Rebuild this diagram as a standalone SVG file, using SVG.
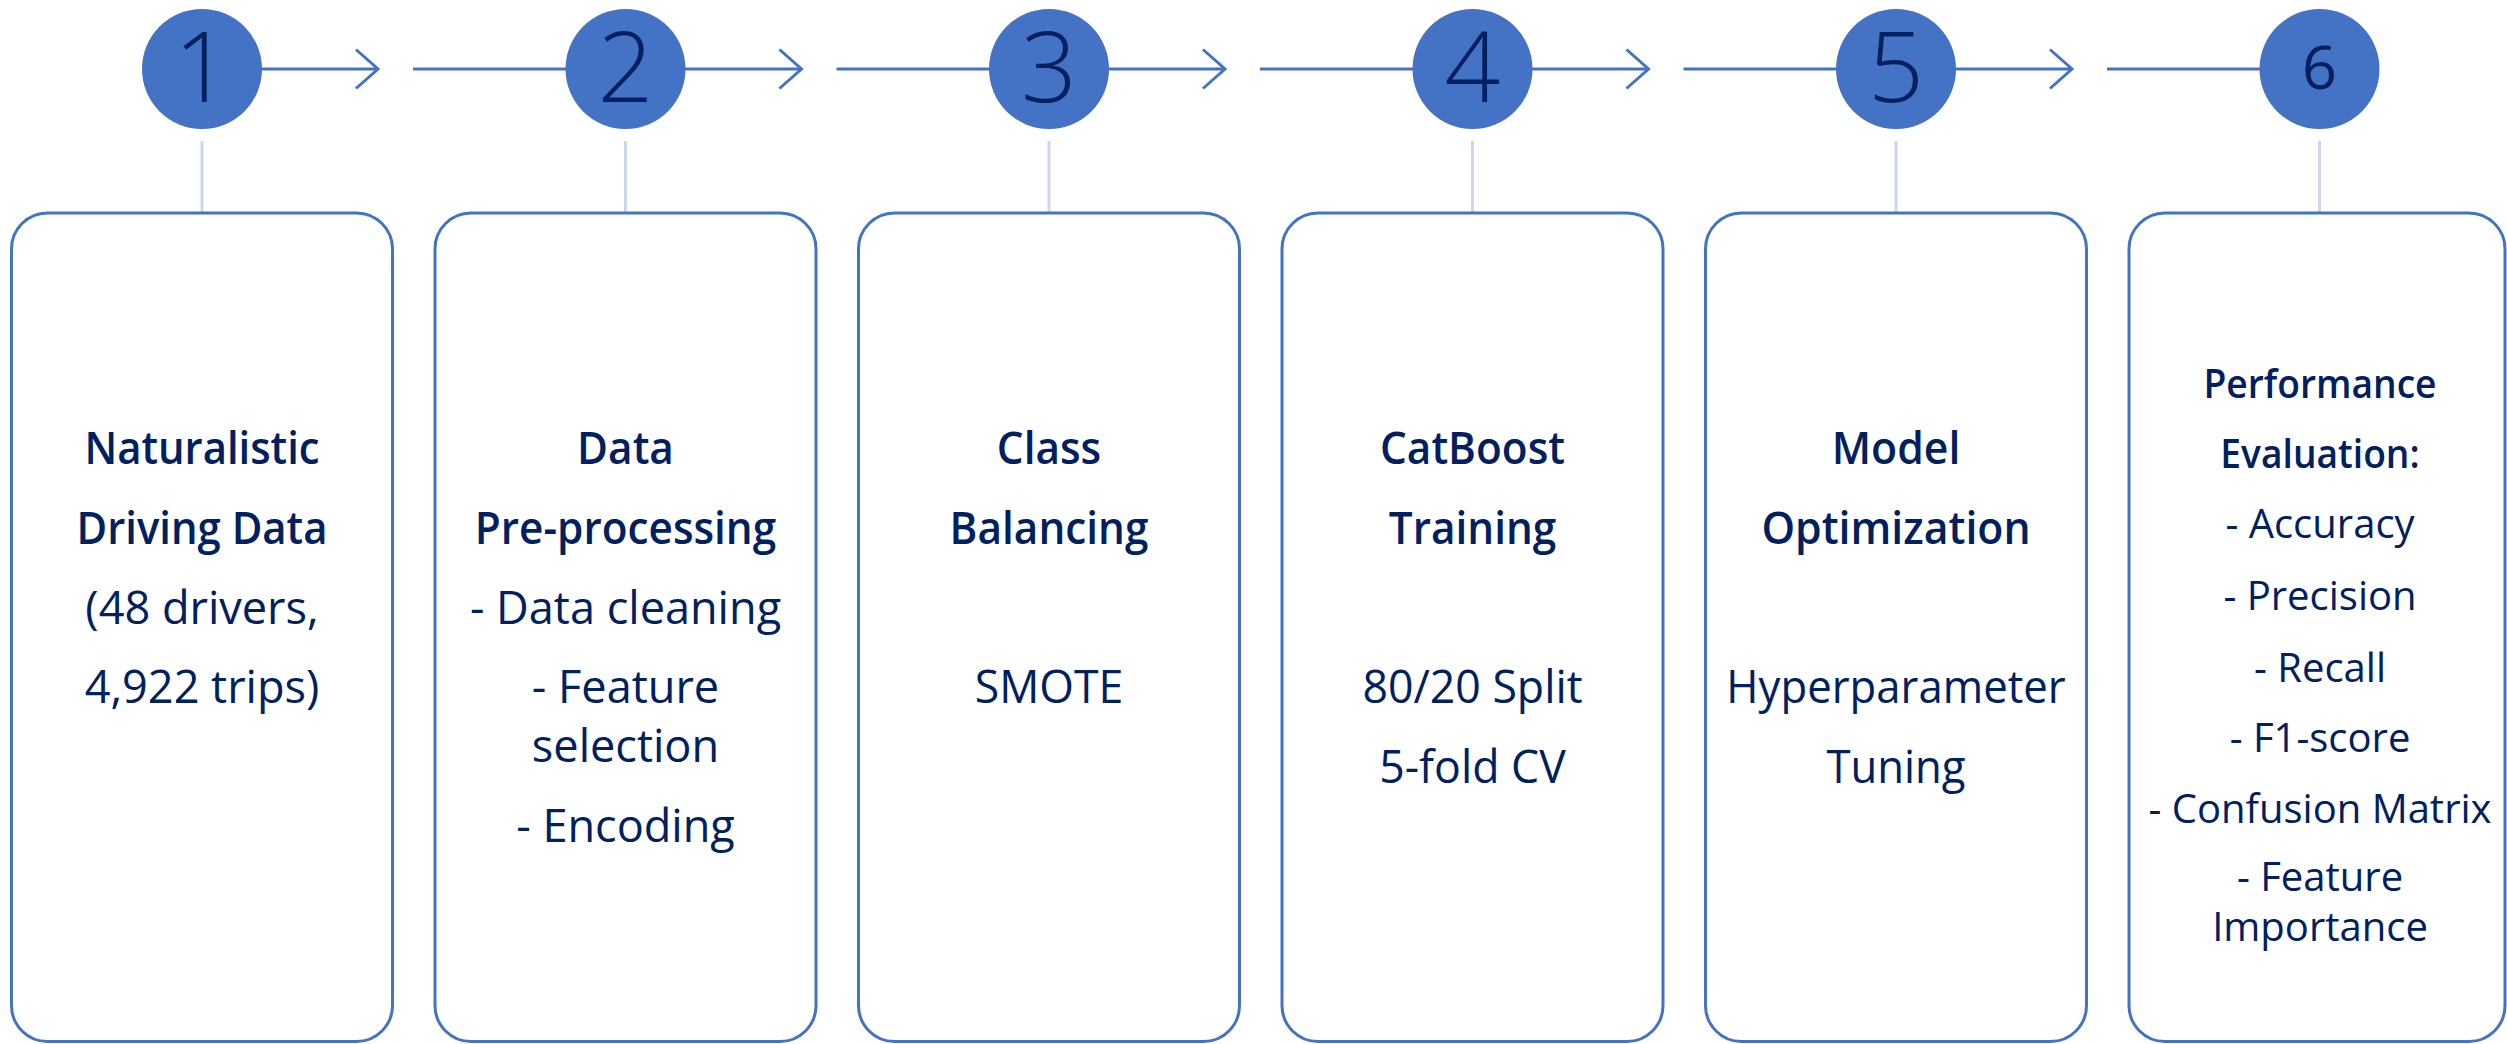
<svg xmlns="http://www.w3.org/2000/svg" width="2507" height="1044" viewBox="0 0 2507 1044">
  <style>
    .flow { fill: none; stroke: #4472C4; stroke-width: 3; }
    .stem { fill: none; stroke: #CDD6EE; stroke-width: 3; }
    .badge { fill: #4472C4; }
    .card { fill: #FFFFFF; stroke: #4472C4; stroke-width: 3; }
    text { font-family: "Open Sans", "Noto Sans", "Liberation Sans", sans-serif; fill: #002060; text-anchor: middle; }
    .num { font-size: 98px; font-weight: 300; }
    .num6 { font-size: 61px; font-weight: 400; }
    .title { font-size: 46px; font-weight: 600; }
    .body { font-size: 46px; font-weight: 400; }
    .title-s { font-size: 40px; font-weight: 600; }
    .body-s { font-size: 40px; font-weight: 400; }
  </style>
  <defs>
    <marker id="chevron" markerUnits="userSpaceOnUse" markerWidth="60" markerHeight="60" refX="0" refY="0" orient="auto" overflow="visible">
      <path d="M-22,-19.5 L0,0 L-22,19.5" fill="none" stroke="#4472C4" stroke-width="3"/>
    </marker>
  </defs>

  <rect x="0" y="0" width="2507" height="1044" fill="#FFFFFF"/>

  <!-- connectors: arrows between steps and stems down to the cards -->
  <g id="connectors">
    <path class="flow" d="M202,69 H378" marker-end="url(#chevron)"/>
    <path class="flow" d="M413,69 H625.5"/>
    <path class="flow" d="M625.5,69 H801.5" marker-end="url(#chevron)"/>
    <path class="flow" d="M836.5,69 H1049"/>
    <path class="flow" d="M1049,69 H1225" marker-end="url(#chevron)"/>
    <path class="flow" d="M1260,69 H1472.5"/>
    <path class="flow" d="M1472.5,69 H1648.5" marker-end="url(#chevron)"/>
    <path class="flow" d="M1683.5,69 H1896"/>
    <path class="flow" d="M1896,69 H2072" marker-end="url(#chevron)"/>
    <path class="flow" d="M2107,69 H2319.5"/>

    <path class="stem" d="M202,141 V213"/>
    <path class="stem" d="M625.5,141 V213"/>
    <path class="stem" d="M1049,141 V213"/>
    <path class="stem" d="M1472.5,141 V213"/>
    <path class="stem" d="M1896,141 V213"/>
    <path class="stem" d="M2319.5,141 V213"/>
  </g>

  <!-- step 1 -->
  <g id="step1">
    <circle class="badge" cx="202" cy="69" r="60"/>
    <text class="num" x="202" y="102">1</text>
    <rect class="card" x="11.5" y="213" width="381" height="828.5" rx="36"/>
    <g transform="translate(202 0) scale(0.91 1)">
      <text class="title" x="0" y="464">Naturalistic</text>
      <text class="title" x="0" y="544">Driving Data</text>
    </g>
    <g transform="translate(202 0) scale(0.98 1)">
      <text class="body" x="0" y="624">(48 drivers,</text>
      <text class="body" x="0" y="703">4,922 trips)</text>
    </g>
  </g>

  <!-- step 2 -->
  <g id="step2">
    <circle class="badge" cx="625.5" cy="69" r="60"/>
    <text class="num" x="625.5" y="102">2</text>
    <rect class="card" x="435" y="213" width="381" height="828.5" rx="36"/>
    <g transform="translate(625.5 0) scale(0.92 1)">
      <text class="title" x="0" y="464">Data</text>
      <text class="title" x="0" y="544">Pre-processing</text>
    </g>
    <g transform="translate(625.5 0) scale(0.98 1)">
      <text class="body" x="0" y="624">- Data cleaning</text>
      <text class="body" x="0" y="703">- Feature</text>
      <text class="body" x="0" y="762">selection</text>
      <text class="body" x="0" y="842">- Encoding</text>
    </g>
  </g>

  <!-- step 3 -->
  <g id="step3">
    <circle class="badge" cx="1049" cy="69" r="60"/>
    <text class="num" x="1049" y="102">3</text>
    <rect class="card" x="858.5" y="213" width="381" height="828.5" rx="36"/>
    <g transform="translate(1049 0) scale(0.92 1)">
      <text class="title" x="0" y="464">Class</text>
      <text class="title" x="0" y="544">Balancing</text>
    </g>
    <g transform="translate(1049 0) scale(0.97 1)">
      <text class="body" x="0" y="703">SMOTE</text>
    </g>
  </g>

  <!-- step 4 -->
  <g id="step4">
    <circle class="badge" cx="1472.5" cy="69" r="60"/>
    <text class="num" x="1472.5" y="102">4</text>
    <rect class="card" x="1282" y="213" width="381" height="828.5" rx="36"/>
    <g transform="translate(1472.5 0) scale(0.92 1)">
      <text class="title" x="0" y="464">CatBoost</text>
      <text class="title" x="0" y="544">Training</text>
    </g>
    <g transform="translate(1472.5 0) scale(0.97 1)">
      <text class="body" x="0" y="703">80/20 Split</text>
      <text class="body" x="0" y="783">5-fold CV</text>
    </g>
  </g>

  <!-- step 5 -->
  <g id="step5">
    <circle class="badge" cx="1896" cy="69" r="60"/>
    <text class="num" x="1896" y="102">5</text>
    <rect class="card" x="1705.5" y="213" width="381" height="828.5" rx="36"/>
    <g transform="translate(1896 0) scale(0.93 1)">
      <text class="title" x="0" y="464">Model</text>
      <text class="title" x="0" y="544">Optimization</text>
    </g>
    <g transform="translate(1896 0) scale(0.95 1)">
      <text class="body" x="0" y="703">Hyperparameter</text>
      <text class="body" x="0" y="783">Tuning</text>
    </g>
  </g>

  <!-- step 6 -->
  <g id="step6">
    <circle class="badge" cx="2319.5" cy="69" r="60"/>
    <text class="num6" x="2319.5" y="89">6</text>
    <rect class="card" x="2129" y="213" width="376" height="828.5" rx="36"/>
    <g transform="translate(2320 0) scale(0.93 1)">
      <text class="title-s" x="0" y="398">Performance</text>
      <text class="title-s" x="0" y="468">Evaluation:</text>
    </g>
    <g transform="translate(2320 0)">
      <text class="body-s" x="0" y="538">- Accuracy</text>
      <text class="body-s" x="0" y="610">- Precision</text>
      <text class="body-s" x="0" y="682">- Recall</text>
      <text class="body-s" x="0" y="752">- F1-score</text>
      <text class="body-s" x="0" y="823">- Confusion Matrix</text>
      <text class="body-s" x="0" y="891">- Feature</text>
      <text class="body-s" x="0" y="941">Importance</text>
    </g>
  </g>
</svg>
